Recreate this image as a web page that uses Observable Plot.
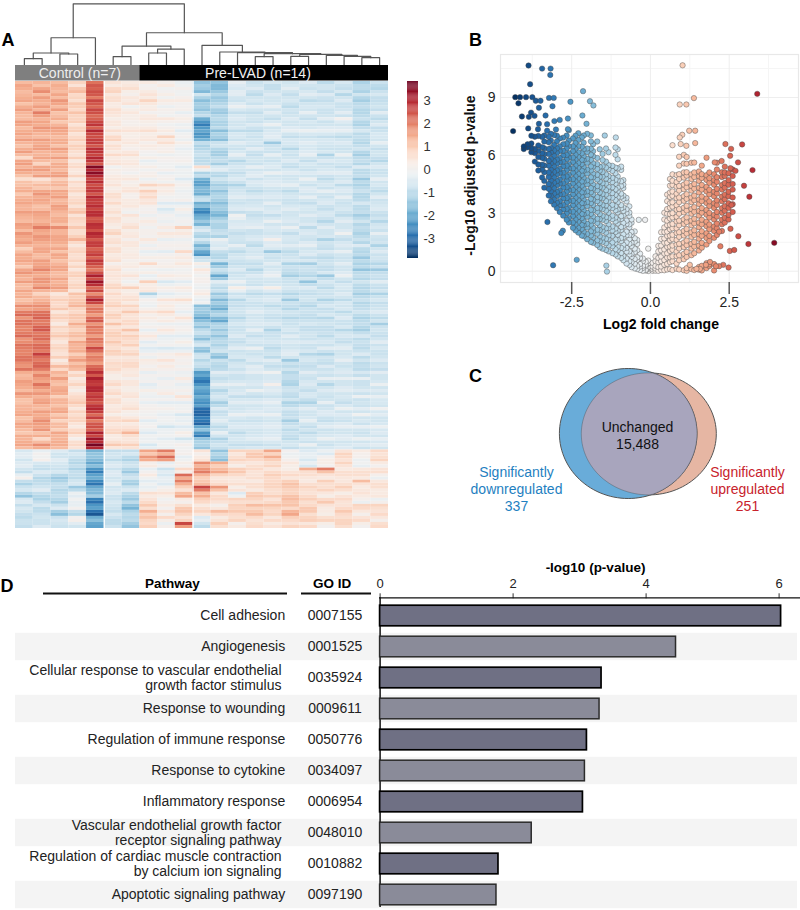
<!DOCTYPE html>
<html><head><meta charset="utf-8">
<script src="https://cdn.jsdelivr.net/npm/d3@7"></script>
<script src="https://cdn.jsdelivr.net/npm/@observablehq/plot@0.6"></script>
<style>html,body{margin:0;padding:0;background:#fff}#fig{position:relative;width:800px;height:910px;overflow:hidden;font-family:"Liberation Sans",Arial,sans-serif}</style>
</head><body><div id="fig"></div>
<script>
// ---------- Panel A: heat map values in tenths, one array per sample (61 upper rows, 13 lower rows)
const s01=[12,14,13,15,14,13,12,15,14,13,13,14,12,15,13,14,6,11,14,13,15,13,14,12,15,17,14,13,12,14,13,15,14,16,12,13,11,18,20,17,21,19,22,18,20,19,21,17,14,13,15,12,14,11,13,15,12,14,10,13,15,-6,-4,-5,-7,-3,-9,-8,-11,-6,-9,-7,-10,-8];
const s02=[13,15,12,14,16,20,13,14,15,12,14,16,13,12,15,13,5,12,15,14,14,12,15,13,20,14,16,13,15,12,15,19,14,17,19,8,13,18,21,23,20,24,21,19,22,27,20,23,15,16,21,14,13,16,12,14,18,15,11,7,18,-3,-1,-6,-9,-8,-10,-7,-9,-12,-6,-10,-7,-8];
const s03=[12,13,15,17,12,11,14,13,15,12,14,16,12,11,14,15,9,13,15,16,13,15,12,14,18,13,15,12,11,14,13,15,12,13,16,4,9,7,4,9,3,6,10,4,8,5,3,12,13,16,11,15,9,13,14,10,8,12,15,13,14,-5,-7,-6,-8,-11,-12,-9,-10,-11,-8,-13,-8,-7];
const s04=[8,10,7,6,9,11,8,5,9,7,6,8,5,3,7,4,2,5,8,6,8,9,5,7,10,6,13,4,8,6,5,4,9,6,8,11,10,13,7,10,14,8,12,15,13,9,16,14,5,3,8,2,7,10,4,6,8,3,9,1,7,-9,-8,-11,-12,-9,-7,-14,-2,-1,-3,-9,0,-4];
const s05=[21,23,24,26,22,25,23,28,30,25,27,29,26,28,36,35,26,25,28,30,27,26,29,25,28,30,24,27,25,23,26,20,31,33,22,18,31,18,20,22,17,19,16,20,26,17,19,22,29,31,27,30,28,24,30,22,20,25,31,33,37,-18,-15,-20,-23,-21,-25,-20,-17,-26,-23,-29,-19,-20];
const s06=[5,7,4,6,3,5,2,4,6,7,3,5,7,4,-1,1,4,5,3,6,7,4,3,5,2,8,5,3,6,4,1,6,5,4,8,7,6,9,6,8,11,7,9,10,6,8,5,6,4,2,7,5,3,6,4,2,7,5,8,3,10,-9,-7,-6,-8,-5,-6,-7,-5,-8,-7,-9,-8,-10];
const s07=[3,6,1,3,-1,4,2,1,5,2,4,1,6,3,2,-1,4,2,5,1,3,1,5,2,6,3,1,4,2,3,2,0,5,-1,9,3,6,8,10,5,7,11,9,6,4,8,5,7,3,1,4,2,5,3,6,1,8,5,13,4,9,-9,-10,-8,-11,-9,-12,-8,-10,-14,-15,-12,-11,-13];
const s08=[3,1,5,8,2,0,4,1,6,3,1,2,-1,-3,2,1,-2,8,9,7,5,0,-2,3,-1,1,4,-2,-3,2,7,-1,-3,9,3,-12,1,-2,5,3,-1,-3,4,-4,-5,1,3,0,-3,-1,-4,2,-2,-3,1,-1,-4,0,-5,-2,-6,15,17,1,-3,3,-4,-3,6,5,10,14,11,7];
const s09=[1,-1,2,3,-2,0,4,-1,3,8,6,1,-2,0,-1,-3,1,6,3,-1,-5,-6,0,-2,3,4,-3,1,-4,2,1,-2,3,-6,2,-4,5,3,7,1,-2,4,-4,-1,-6,2,5,3,-1,-3,0,1,-2,-4,1,-3,-1,-7,-2,-4,-1,20,22,-3,-8,-6,-3,0,5,-1,3,5,7,-2];
const s10=[-2,1,-1,3,0,-3,2,-2,-4,0,2,-3,-1,1,-4,-2,-5,1,-2,-1,-5,2,-3,0,9,4,-2,1,7,3,4,-1,2,-4,3,-2,6,-1,-3,5,-2,1,-4,2,-5,4,0,-1,-2,3,-3,1,5,-4,-1,-6,-3,-5,2,-7,1,0,-3,2,7,22,20,9,12,3,6,11,5,26];
const s11=[-15,-14,-7,-16,-13,-11,-19,-27,-20,-22,-9,-11,-8,-10,6,-12,-18,-21,-17,-10,-19,-23,-20,-14,-8,-10,-6,-18,-20,-9,2,4,-1,1,-2,3,-3,-16,-14,-20,-12,-10,-12,-9,-14,-8,-11,-9,-22,-25,-23,-21,-19,-24,-29,-31,-28,-20,-23,-15,-12,5,3,18,17,13,10,26,11,9,3,8,-5,-7];
const s12=[-15,-17,-11,-13,-9,-14,-10,-12,-16,-13,-8,-11,-13,-9,-6,-10,-7,-13,-15,-11,-16,-13,-18,-10,-12,-8,-2,-6,-9,-11,-18,-8,-20,-4,-10,-14,-17,-16,-13,-17,-12,-14,-15,-10,-9,-13,-8,-11,-4,-9,-3,-11,-6,-13,-5,-8,-4,-10,-3,-12,-7,-15,-13,14,12,8,5,17,4,7,1,12,3,9];
const s13=[-3,-6,-4,-8,-2,-9,-5,-7,-10,-6,-4,-8,-3,-11,-6,-9,-5,-12,-7,-4,-8,-5,-1,-6,-4,-9,-7,-3,-10,-6,-9,-5,-7,-2,2,-8,-11,-9,-7,-11,-6,-8,-5,-9,-4,-7,-10,-6,-5,-8,-3,-6,-9,-4,-7,-2,-8,-5,-10,-6,-9,8,6,5,9,7,4,2,-5,8,9,10,6,1];
const s14=[-8,-5,-10,-6,-4,-9,-7,-5,-10,-8,-6,-4,-9,-7,-3,-5,-8,-6,-10,-5,-7,-4,-9,-6,-3,-8,-5,-10,-7,-4,-9,-11,-5,-7,-3,-10,-6,-8,-4,-7,-5,-3,-9,-6,-2,-8,-5,-4,-3,-7,-5,-2,-9,-4,-6,-3,-8,-5,-7,-4,-9,8,10,4,7,5,3,6,9,8,12,10,7,6];
const s15=[-6,-9,-5,-7,-3,-4,-9,-2,-6,-4,-14,-7,-3,-8,-5,-2,-6,-4,-8,-5,-3,-6,-9,-2,-5,-7,1,-4,-14,-8,-4,-6,-2,-7,2,-9,-5,-10,-6,-9,-5,-12,-8,-6,-10,-7,-4,-9,-1,-6,1,-4,-8,-3,-5,-2,-7,-4,-6,-3,-8,15,14,6,4,9,7,8,6,5,11,7,4,3];
const s16=[-7,-4,-9,-6,-10,-8,-5,-7,-3,-9,-6,-11,-8,-5,-9,-4,-7,-3,-10,-6,-8,-4,-7,-5,-2,-9,-6,-4,-10,-7,-12,-9,-13,-8,-6,-11,-14,-9,-7,-11,-8,-6,-4,-5,-7,-4,-14,-10,-11,-9,-12,-7,-10,-12,-6,-9,-13,-7,-8,-10,-6,0,-1,4,2,7,9,10,8,12,11,13,9,5];
const s17=[-5,-8,-4,-10,-6,-3,-9,-7,-2,-8,-4,-6,-3,-9,-7,-5,-2,-8,-5,-3,-9,-6,-4,-7,-10,-5,-8,-3,-6,-9,-13,-8,-11,-15,-5,-9,-7,-11,-8,-10,-6,-9,-7,-5,-8,-11,-6,-9,-4,-8,-5,-9,-6,-12,-4,-7,-3,-9,-10,-6,-2,-5,-3,-2,14,6,3,8,5,9,7,10,8,4];
const s18=[-10,-7,-5,-9,-6,-8,-4,-7,-3,-9,-6,-8,-12,-5,-7,-4,-10,-6,-3,-8,-5,-9,-6,-11,-4,-7,-12,-8,-5,-10,-7,-9,-14,-6,-10,-8,-12,-6,-8,-11,-7,-9,-10,-6,-4,-12,-8,-5,-6,-3,-11,-5,-8,-3,-7,-5,-9,-4,-7,-2,-8,-2,0,2,20,5,9,6,4,7,5,3,6,2];
const s19=[-6,-9,-11,-5,-8,-4,0,-7,-3,-10,-5,-8,-2,-6,-9,-4,-7,-10,-5,-3,-8,-6,-10,-4,-7,-1,-9,-5,-3,-8,-4,-7,-2,-9,-6,-5,-10,-7,-10,-5,-8,-11,-6,-9,-4,-7,-3,-8,-5,-3,-7,-4,-6,-9,-2,-5,-8,-3,-7,-4,-6,5,7,8,3,6,4,9,2,7,5,10,6,8];
const s20=[-12,-10,-7,-13,-9,-11,-8,-12,-6,-9,-11,-7,-13,-9,-5,-10,-14,-12,-8,-11,-6,-10,-13,-7,-9,-12,-8,-5,-11,-14,-12,-15,-9,-7,-11,-13,-8,-10,-7,-12,-9,-13,-6,-8,-10,-5,-7,-9,-6,-3,-8,-5,-2,-7,-4,-1,-6,-3,-8,-2,-5,3,1,-1,4,6,12,3,5,1,8,4,5,2];
const s21=[-8,-11,-6,-9,-7,-4,-10,-5,-8,-6,-3,-9,-7,-11,-5,-8,-3,-6,-10,-4,-7,-5,-9,-11,-6,-3,-8,-12,-5,-7,-11,-14,-8,-4,-9,-12,-6,-8,-5,-10,-13,-7,-9,-4,-6,-8,-5,-7,-4,-7,-2,-5,-3,-6,-1,-4,-7,-2,-5,-3,-4,7,6,3,5,1,4,6,3,-2,8,5,4,6];
const samples=[s01,s02,s03,s04,s05,s06,s07,s08,s09,s10,s11,s12,s13,s14,s15,s16,s17,s18,s19,s20,s21];
// finer streaks: each row is drawn as two thin rows, the second differing from the first by this many tenths
const f01=[3,-2,1,-4,2,-1,4,-3,1,3,-2,2,-5,1,3,-3,5,2,-4,1,-2,3,-1,4,-3,-2,2,-4,3,1,-3,2,-1,-4,3,1,2,-3,2,4,-2,1,-5,3,-1,2,-3,4,-2,3,-1,5,-3,2,1,-4,3,-2,4,1,-3,2,-3,1,-2,4,-3,2,-4,1,3,-2,2,-1];
const f02=[-2,3,4,-1,-3,-4,2,3,-2,4,1,-3,2,-4,1,3,4,-2,2,1,-3,4,-1,2,-5,3,-2,2,-3,4,1,-4,3,-2,-6,4,2,-2,1,-3,3,-4,1,3,-2,-5,2,-3,4,-1,-4,3,2,-3,4,1,-2,2,3,5,-4,3,2,-2,4,-3,1,3,-2,3,-4,2,-1,3];
const f03=[2,-1,-3,-2,4,1,-4,3,-1,2,-3,-2,4,3,-2,1,3,-3,-1,-4,3,-2,2,-3,-5,2,-1,3,4,-3,2,-3,3,1,-4,3,-2,3,4,-3,5,2,-4,3,-2,4,3,-5,-2,-4,3,-1,4,-2,1,3,4,-3,-2,1,-2,-2,3,-1,2,-3,3,-2,1,-2,3,-3,2,-1];
const f04=[-3,2,1,4,-2,-3,1,3,-4,2,3,-2,4,3,-3,4,5,2,-4,1,-3,2,3,-1,-4,3,-6,3,-2,2,3,4,-3,2,-4,-2,1,-5,3,-1,-4,3,-3,-2,1,4,-5,-2,3,2,-4,3,1,-3,4,2,-3,4,-4,5,-2,3,-2,2,3,-1,1,4,-2,-2,3,-2,1,-3];
const f05=[3,2,-4,-2,4,-3,3,-5,-4,2,-3,-1,4,-4,-6,-5,3,2,-4,-3,2,3,-5,4,-3,-2,3,-4,2,5,-3,5,-6,-4,4,6,-5,3,-4,2,4,1,5,-2,-4,3,-3,2,-5,-3,3,-4,-2,4,-3,5,4,-2,-5,-4,-7,3,-2,4,-4,2,-3,3,4,-3,2,-4,3,-1];
const f06=[-2,1,2,-3,3,-1,2,-2,-3,1,3,-2,-4,1,3,2,-1,-3,3,-2,-4,2,3,-2,4,-5,1,3,-3,2,3,-2,-1,3,-4,-2,1,-4,3,-3,-6,2,-2,-3,3,-4,2,1,-2,3,-4,2,3,-3,1,4,-3,2,-5,3,-6,2,-3,1,3,-2,3,1,-3,2,-1,3,-2,2];
const f07=[1,-4,3,2,3,-2,-1,2,-3,1,-2,3,-4,1,-1,3,-3,2,-4,2,1,-2,-3,2,-4,1,3,-2,1,-2,1,2,-4,3,-7,2,-3,-3,-5,2,-3,-6,-2,3,2,-4,2,-3,1,3,-2,2,-3,1,-4,3,-5,2,-7,1,-4,3,-2,1,-3,2,-1,3,-2,4,-3,2,1,-2];
const f08=[-3,2,-2,-4,1,3,-2,2,-4,1,2,-2,3,2,-3,1,3,-6,-4,-3,-4,1,3,-2,2,-1,-3,3,2,-2,-6,3,2,-7,1,8,-2,3,-4,-2,2,4,-3,3,2,-3,-1,2,3,1,2,-3,2,3,-1,2,3,-2,4,1,3,-5,-3,2,3,-4,3,2,-3,2,-4,-5,-3,2];
const f09=[2,1,-3,-2,3,-1,-3,2,-2,-5,-4,1,3,-1,2,3,-2,-4,-2,1,4,3,-1,2,-3,-2,3,-1,4,-2,1,2,-3,4,-2,3,-4,-1,-4,2,3,-3,2,1,4,-2,-4,-2,1,3,-1,2,2,3,-2,2,-1,5,1,3,-1,-7,-6,3,4,3,-2,2,-3,2,-3,-4,-5,3];
const f10=[1,-2,2,-3,1,3,-1,2,3,-2,-3,2,1,-2,3,1,4,-2,1,2,4,-3,2,-1,-7,-3,2,-1,-6,-2,-3,1,-2,3,-2,2,-5,1,3,-4,2,-2,3,-3,3,-3,1,2,1,-3,2,-2,-4,3,1,4,2,3,-2,5,-2,1,2,-2,-5,-8,-6,-4,3,-2,4,-3,3,-10];
const f11=[2,-3,-5,3,-2,2,-4,5,-3,4,-3,2,-2,1,-8,3,-3,4,-2,2,3,-3,2,-4,3,-2,-5,4,-3,2,-4,-3,2,-2,3,-4,2,3,-2,4,-3,2,-4,3,-2,1,3,-4,2,-3,4,-2,-3,3,-2,4,-3,5,-4,3,-3,-4,2,-5,3,-4,2,-6,3,-2,3,-4,2,-3];
const f12=[-2,3,-3,2,-4,3,-2,2,4,-3,1,-2,3,-4,2,-1,-3,2,3,-2,3,-3,5,-2,3,-4,-3,2,-2,3,5,-3,6,-4,2,3,4,-3,2,-3,1,3,4,-2,2,-3,-2,1,-3,2,-4,3,-2,3,-4,2,-3,2,-4,3,-2,4,-3,-5,3,-4,2,-6,3,-2,3,-5,2,-3];
const f13=[-2,2,-3,3,-4,3,-2,1,4,-2,-3,2,-4,3,-1,2,-3,4,1,-3,2,-4,-2,1,-3,2,-1,-4,3,-2,2,-3,1,-4,-5,2,3,2,-1,3,-2,1,-3,2,-4,1,3,-2,-3,2,-4,1,3,-3,1,-4,2,-2,3,-1,2,-4,2,-3,1,-3,2,3,4,-2,-1,-3,2,2];
const f14=[1,-3,3,-2,-3,2,-1,-3,3,1,-2,-4,2,-1,-4,1,3,-2,3,-3,1,-4,2,1,-5,2,-3,4,1,-3,2,3,-2,-1,-4,3,-2,2,-3,1,-2,-4,3,-2,-5,2,-3,-1,-4,1,-2,-5,3,-3,1,-4,2,-2,1,-3,3,2,-3,2,-2,1,3,-3,1,-2,-4,2,-2,1];
const f15=[-3,2,-2,1,-4,-3,3,-5,1,-2,6,-1,-4,2,-2,-5,1,-3,2,-2,-4,1,3,-5,-1,2,-6,-2,7,1,-3,2,-4,1,-7,3,-2,3,-2,2,-3,4,1,-2,2,-3,-3,2,-5,1,-6,-2,3,-3,-1,-4,2,-2,1,-3,2,-7,-5,2,3,-2,1,-2,3,2,-3,1,3,2];
const f16=[1,-3,2,-2,3,1,-2,2,-4,3,-1,4,1,-3,3,-3,1,-4,3,-2,2,-3,1,-2,-4,3,-1,-3,2,1,4,-1,5,1,-2,3,6,-2,-1,3,1,-2,-3,-2,2,-3,6,3,2,-2,4,-2,3,2,-3,1,4,-3,-1,3,-3,-2,2,-2,3,-3,2,-2,3,-2,-4,2,-2,3];
const f17=[-2,2,-3,3,-1,-4,3,1,-4,2,-2,1,-4,3,-1,-2,-4,3,-2,-4,3,-1,-3,2,4,-2,3,-4,1,3,5,-1,4,6,-3,2,-2,3,-1,2,-3,2,-1,-3,2,4,-2,1,-3,2,-2,3,-3,4,-3,1,-4,2,3,-2,-5,2,-3,-4,-8,-2,3,-2,2,-3,3,-4,1,3];
const f18=[3,-2,-3,2,-2,1,-4,2,-3,3,-1,2,4,-3,1,-4,3,-2,-4,2,-3,3,-2,4,-3,1,5,-1,-3,2,-2,3,5,-2,3,1,4,-3,2,3,-2,1,3,-2,-4,5,-1,-3,-2,-4,4,-2,1,-5,2,-3,3,-4,1,-5,2,-3,2,-2,-9,-2,-3,2,-2,3,-2,-1,2,-2];
const f19=[-2,3,4,-3,1,-4,-5,2,-4,3,-2,1,-5,-1,3,-3,2,4,-2,-4,1,-2,4,-3,2,-6,3,-2,-4,1,-3,2,-5,3,-1,-2,4,1,3,-3,2,4,-2,3,-3,1,-4,2,-2,-4,2,-3,-1,3,-5,-2,3,-4,2,-3,1,3,-2,-3,3,-2,2,-3,3,-2,2,-3,2,-2];
const f20=[2,-2,-4,3,-2,1,-3,3,-4,-1,2,-4,3,-2,-5,1,4,2,-3,1,-4,1,3,-4,-1,2,-3,-5,1,4,2,5,-2,-3,1,3,-3,1,-3,2,-2,4,-4,-1,2,-5,-3,-1,-3,-5,1,-3,-6,-1,-3,-6,-2,-4,1,-5,-3,-2,-3,-2,2,-3,-7,1,-2,-3,-1,-3,2,-2];
const f21=[-2,3,-3,1,-2,-4,3,-4,2,-1,-4,2,-2,4,-3,1,-4,-2,3,-4,1,-3,2,4,-2,-4,1,5,-3,-1,3,5,-1,-4,2,4,-3,1,-3,3,5,-1,2,-4,-2,1,-3,-2,-3,1,-5,-2,-3,-1,-5,-3,1,-4,-2,-3,-3,-2,2,-3,1,-3,2,-3,1,3,-2,2,-3,1];
const streaks=[f01,f02,f03,f04,f05,f06,f07,f08,f09,f10,f11,f12,f13,f14,f15,f16,f17,f18,f19,f20,f21];
const groupNames=["Control (n=7)","Pre-LVAD (n=14)"];
const groupSpans=[[0,7],[7,21]];
const groupFills=["#7f7f7f","#000000"];
const groupTextFill=["#eeeeee","#f2f2f2"];
// merges: [left id, right id, height]; ids below 21 are samples, above are earlier merges
const merges=[[0,1,6.3],[2,3,11],[21,22,12],[23,4,27.3],[5,6,8.3],[7,8,12],[26,9,16],[25,27,19],[19,20,7.3],[18,29,8.7],[17,30,9.7],[15,16,8.7],[32,31,10.7],[13,14,8.3],[34,33,11.3],[12,35,12.3],[11,36,13],[10,37,19.7],[28,38,32.3],[24,39,61.3]];
const colorTicks=[3,2,1,0,-1,-2,-3];

// ---------- Panel B: volcano, [log2FC, list of -log10 p-values]
const volcanoColumns=[
[-.07,[.01,.13,.2,.41,.55]],[-.15,[.04,.07,.26,.33,.49]],[-.24,[.02,.17,.28,.52,.66]],[-.33,[.06,.24,.37,.68,.91]],
[-.42,[.11,.27,.58,.72,1.09,1.41,1.62]],[-.5,[.15,.39,.63,.99,1.17,1.53,1.71,2.06]],
[-.6,[.21,.47,.74,.9,1.31,1.48,1.87,2.03,2.51,2.68]],[-.67,[.33,.52,.86,1.03,1.42,1.66,1.88,2.27,2.43,2.87,3.04,3.36]],
[-.76,[.4,.66,1.01,1.21,1.49,1.86,2.05,2.44,2.62,3.02,3.21,3.62,3.8]],[-.86,[.57,.79,1.16,1.37,1.75,1.91,2.33,2.5,2.89,3.13,3.31,3.75,3.92,4.31,4.48,4.72]],
[-.93,[.69,.94,1.21,1.56,1.72,2.14,2.29,2.71,2.85,3.26,3.43,3.86,4.02,4.41,4.66,5.25,5.42]],
[-1.04,[.77,1.08,1.27,1.63,1.89,2.1,2.47,2.66,3.05,3.2,3.57,3.83,4.14,4.33,4.69,4.91,5.33,5.8,6.32]],
[-1.11,[.87,1.14,1.46,1.64,2.03,2.21,2.58,2.78,3.16,3.37,3.69,3.96,4.24,4.53,4.74,5.08,5.37,6.03,6.41]],
[-1.21,[.94,1.29,1.49,1.83,2.11,2.32,2.7,2.88,3.27,3.44,3.81,4.05,4.35,4.62,4.84,5.2,5.46]],
[-1.33,[1.03,1.33,1.66,1.86,2.23,2.43,2.75,3.03,3.28,3.61,3.82,4.16,4.37,4.72,4.93,5.29,5.5,6.17]],
[-1.41,[1.1,1.45,1.68,2,2.22,2.6,2.8,3.14,3.41,3.64,3.97,4.2,4.54,4.8,5.02,5.37,5.68,6.36]],
[-1.52,[1.17,1.52,1.74,2.09,2.3,2.67,2.87,3.22,3.43,3.78,4,4.33,4.56,4.9,5.14,5.44,5.76,6.08]],
[-1.61,[1.24,1.55,1.81,2.13,2.39,2.7,2.96,3.26,3.53,3.8,4.08,4.36,4.66,4.89,5.21,5.41,6.32]],
[-1.69,[1.36,1.6,1.94,2.15,2.5,2.72,3.08,3.28,3.63,3.84,4.19,4.41,4.75,5,5.3,5.55,5.87,6.72]],
[-1.82,[1.47,1.74,2.05,2.25,2.6,2.83,3.15,3.43,3.7,3.98,4.27,4.5,4.86,5.06,5.41,5.6,5.96,6.22,6.58]],
[-1.89,[1.52,1.85,2.07,2.41,2.62,2.97,3.18,3.53,3.75,4.09,4.31,4.66,4.87,5.22,5.43,5.77,6.04,6.35,6.73,7.04]],
[-2.01,[1.66,1.93,2.26,2.46,2.82,3.03,3.38,3.58,3.94,4.14,4.5,4.71,5.06,5.27,5.62,5.83,6.18,6.36,7.12]],
[-2.12,[1.82,2.05,2.39,2.6,2.95,3.16,3.52,3.72,4.08,4.28,4.64,4.84,5.2,5.4,5.76,5.96,6.32,6.66,7.03]],
[-2.18,[1.85,2.19,2.4,2.75,2.97,3.31,3.53,3.87,4.09,4.43,4.65,4.99,5.21,5.55,5.77,6.11,6.45,6.93]],
[-2.29,[2,2.25,2.56,2.81,3.12,3.37,3.68,3.93,4.24,4.49,4.8,5.05,5.36,5.61,5.92,6.17,6.49,6.8,7.15]],
[-2.38,[2.12,2.42,2.68,2.98,3.24,3.54,3.8,4.1,4.36,4.66,4.92,5.22,5.48,5.78,6.04,6.34,6.64,7.02]],
[-2.46,[2.25,2.53,2.86,3.09,3.42,3.65,3.98,4.21,4.54,4.77,5.1,5.33,5.66,5.89,6.22,6.47,6.88]],
[-2.59,[2.52,2.75,3.08,3.31,3.64,3.87,4.2,4.43,4.76,4.99,5.32,5.55,5.88,6.11,6.48,6.77,7.31]],
[-2.66,[2.67,3,3.23,3.56,3.79,4.12,4.35,4.68,4.91,5.24,5.47,5.8,6.03,6.36,6.62,7.03]],
[-2.77,[2.88,3.2,3.44,3.76,4,4.32,4.56,4.88,5.12,5.44,5.68,6,6.24,6.58,6.92]],
[-2.88,[3.07,3.41,3.63,3.97,4.19,4.53,4.75,5.09,5.31,5.65,5.87,6.23,6.47,6.88]],
[-2.97,[3.27,3.55,3.89,4.11,4.45,4.67,5.01,5.23,5.57,5.79,6.13,6.37,6.73,7.02]],
[-3.06,[3.45,3.72,4.02,4.3,4.58,4.86,5.14,5.42,5.7,5.98,6.26,6.54,7.06]],
[-3.16,[3.62,3.9,4.14,4.47,4.7,5.03,5.26,5.59,5.82,6.15,6.38,6.78,7.12]],
[-3.23,[3.92,4.27,4.52,4.88,5.12,5.47,5.72,6.07,6.33,6.68,6.97]],
[-3.37,[4.33,4.68,5.13,5.48,5.83,6.08,6.37,6.72,7.03]],[-3.44,[4.86,5.27,5.52,5.88,6.12,6.43,6.96]],[-3.56,[5.22,5.53,5.92,6.23,6.52,7.01]],
[-3.67,[5.68,6.12,6.33,6.97]],[-3.78,[6.17,6.38,6.62,7.02]],[-3.9,[6.42,6.58]],[-4.02,[6.33,6.47]],
[.07,[.02,.11,.24,.43]],[.16,[.03,.14,.28,.52,.77]],[.25,[.02,.21,.47,.69,1.02,1.31]],[.34,[.06,.24,.52,.76,1.08,1.33,1.67,2.02]],
[.44,[.05,.34,.58,.91,1.13,1.48,1.7,2.03,2.27,2.68,3.03]],[.53,[.09,.38,.71,.93,1.26,1.47,1.83,2.05,2.39,2.62,2.98,3.22,3.63,3.97]],
[.62,[.11,.47,.72,1.05,1.27,1.61,1.84,2.17,2.4,2.73,2.96,3.29,3.52,3.85,4.08,4.43,4.78]],
[.7,[.06,.52,.77,1.11,1.33,1.67,1.89,2.23,2.45,2.79,3.01,3.35,3.57,3.91,4.13,4.47,4.69,5.02]],
[.83,[.13,.4,.78,1.02,1.38,1.62,1.98,2.22,2.58,2.82,3.18,3.42,3.78,4.02,4.38,4.62,4.98]],
[.91,[.09,.57,.83,1.18,1.42,1.78,2.02,2.38,2.62,2.98,3.22,3.58,3.82,4.18,4.42,4.78,5.03,5.47,5.93]],
[1.06,[.05,.62,.9,1.25,1.49,1.85,2.09,2.45,2.69,3.05,3.29,3.65,3.89,4.25,4.49,4.85,5.12,5.58,6.03]],
[1.15,[.02,.16,.74,1,1.35,1.59,1.95,2.19,2.55,2.79,3.15,3.39,3.75,3.99,4.35,4.59,4.95,5.13,5.57,5.92]],
[1.3,[.11,.83,1.17,1.42,1.78,2.02,2.38,2.62,2.98,3.22,3.58,3.82,4.18,4.42,4.78,5.02,5.62]],
[1.39,[.06,.93,1.28,1.52,1.88,2.12,2.48,2.72,3.08,3.32,3.68,3.92,4.28,4.52,4.88,5.12,5.63]],
[1.54,[.08,.22,1.07,1.33,1.68,1.92,2.28,2.52,2.88,3.12,3.48,3.72,4.08,4.32,4.68,4.92,5.17]],
[1.63,[.04,.28,1.22,1.47,1.83,2.07,2.43,2.67,3.03,3.27,3.63,3.87,4.23,4.47,4.83,5.03,5.47]],
[1.78,[.16,.42,1.38,1.72,1.97,2.33,2.57,2.93,3.17,3.53,3.77,4.13,4.37,4.73,4.97,5.88]],
[1.87,[.27,.36,1.57,1.83,2.18,2.42,2.78,3.02,3.38,3.62,3.98,4.22,4.58,4.82,5.12]],
[2.02,[.04,.37,1.73,2.08,2.32,2.68,2.92,3.28,3.52,3.88,4.12,4.48,4.72,5.03]],
[2.11,[1.88,2.23,2.47,2.83,3.07,3.43,3.67,4.03,4.27,4.63,4.87,5.27,5.62]],
[2.27,[2.08,2.43,2.67,3.03,3.27,3.63,3.87,4.23,4.47,4.88,5.13]],[2.36,[2.52,2.77,3.13,3.37,3.73,3.97,4.33,4.57,4.93,5.12,5.42]],
[2.48,[2.68,2.92,3.28,3.52,3.88,4.12,4.48,4.72,5.08]],[2.61,[3.07,3.47,3.82,4.23,4.52,4.93,5.27]]];
const volcanoOutliers=[[-3.87,10.66],[-3.44,10.5],[-3.17,10.5],[-3.18,10.17],[-3.82,9.69],[-2.14,9.33],[-4.29,9.02],[-4.14,9.02],[-3.95,9.02],[-3.75,9.02],[-3.64,8.83],[-3.49,8.83],[-3.22,8.98],[-3.07,8.98],[-4.19,8.7],[-3.54,8.47],[-3.11,8.55],[-2.54,8.78],[-1.92,8.81],[-1.81,8.59],[-4.08,8.02],[-3.79,8.22],[-3.86,8],[-3.68,8.05],[-3.33,8.07],[-2.16,8.07],[-2.62,7.91],[-2.88,7.84],[-3.05,7.78],[-2.03,7.64],[-3.54,7.64],[-3.28,7.62],[-3.88,7.4],[-4.36,7.26],[-3.57,7.36],[-3,7.34],[-2.62,7.36],[-3.28,7.28],[-1.45,7.03],[-1.1,6.93],[-3.27,2.55],[-2.78,2.1],[-2.83,1.98],[-3.09,.31],[-2.34,.59],[-1.4,.29],[-1.38,-.02],[-.37,2.66],[-.17,2.66],[-.07,1.17],
[1.02,10.67],[3.39,9.19],[1.38,8.97],[.93,8.64],[1.14,8.64],[1.23,7.28],[1.42,7.28],[1.01,7.07],[.93,6.93],[.7,6.53],[.96,6.59],[1.14,6.5],[1.42,6.64],[2.38,6.59],[2.91,6.57],[2.56,6.34],[2.53,5.98],[2.26,5.71],[2.04,5.64],[2.78,5.64],[2.54,5.34],[3.24,5.24],[2.7,5.2],[2.97,4.43],[3.14,3.86],[2.57,3.43],[2.54,2.2],[2.79,1.81],[3.11,1.41],[3.93,1.47],[2.52,1.05],[2.66,1.1],[2.22,1.29],[2.18,2.05],[2.48,.19],[2.31,.33],[2.18,.26],[2.08,.26],[1.89,.48],[1.76,.33],[1.57,.12],[1.46,.12],[1.25,.33]];

// ---------- Panel C
const vennCentre=["Unchanged","15,488"];
const vennDown=["Significantly","downregulated","337"];
const vennUp=["Significantly","upregulated","251"];

// ---------- Panel D
const pathways=["Cell adhesion","Angiogenesis","Cellular response to vascular endothelial\ngrowth factor stimulus","Response to wounding","Regulation of immune response","Response to cytokine","Inflammatory response","Vascular endothelial growth factor\nreceptor signaling pathway","Regulation of cardiac muscle contraction\nby calcium ion signaling","Apoptotic signaling pathway"];
const goIds=["0007155","0001525","0035924","0009611","0050776","0034097","0006954","0048010","0010882","0097190"];
const logP=[6.03,4.45,3.33,3.30,3.11,3.08,3.05,2.28,1.78,1.75];

// ---------- assembly
const FONT='"Liberation Sans",Arial,sans-serif';
const fig=document.getElementById("fig");
function place(svg,left,top){svg.style.position="absolute";svg.style.left=left+"px";svg.style.top=top+"px";svg.style.background="transparent";svg.style.fontFamily=FONT;fig.appendChild(svg);}
const heatColor={type:"linear",scheme:"rdbu",reverse:true,domain:[-3.86,3.86]};

// dendrogram
const nodes=samples.map((_,i)=>({x:i+.5,h:0}));
const dendroPaths=[];
merges.forEach(([a,b,h],k)=>{const A=nodes[a],B=nodes[b];nodes.push({x:(A.x+B.x)/2,h});
  dendroPaths.push({k,x:A.x,h:A.h},{k,x:A.x,h},{k,x:B.x,h},{k,x:B.x,h:B.h});});
place(Plot.plot({width:400,height:66,x:{domain:[0,21],range:[15,388],axis:null},y:{domain:[0,61.3],range:[64.5,3.3],axis:null},
  marks:[Plot.line(dendroPaths,{x:"x",y:"h",z:"k",stroke:"#555",strokeWidth:1.2,curve:"linear"})]}),0,0);

// group bar
const groups=groupNames.map((name,i)=>({name,x1:groupSpans[i][0],x2:groupSpans[i][1],fill:groupFills[i],tf:groupTextFill[i],at:i?13.65:3.62}));
place(Plot.plot({width:400,height:15.5,margin:0,x:{domain:[0,21],range:[15,388],axis:null},
  marks:[Plot.barX(groups,{x1:"x1",x2:"x2",fill:d=>d.fill}),
         Plot.text(groups,{x:"at",text:"name",fill:d=>d.tf,frameAnchor:"middle",fontSize:14,dy:.5})]}),0,65);

// heat map
const cells=[];
samples.forEach((col,c)=>col.forEach((v,r)=>{
  cells.push({c,r:2*r,v:v/10});
  cells.push({c,r:2*r+1,v:(v+(streaks[c][r]??0))/10});
}));
place(Plot.plot({width:400,height:530,color:heatColor,x:{domain:[0,21],range:[15,388],axis:null},y:{domain:[0,148],range:[0,447],axis:null},
  marks:[Plot.rect(cells,{x1:"c",x2:d=>d.c+1,y1:"r",y2:d=>d.r+1,fill:"v"}),
         Plot.ruleX([5,10],{stroke:"#fff",strokeWidth:1.2,y1:0,y2:148})]}),0,81.3);

// colour bar
const levels=d3.range(-3.86,3.86,.04);
place(Plot.plot({width:50,height:177,marginLeft:0,marginRight:39,marginTop:0,marginBottom:0,color:heatColor,y:{domain:[-3.86,3.86],range:[177,0],axis:null},
  marks:[Plot.rect(levels,{y1:d=>d,y2:d=>d+.045,fill:d=>d}),
         Plot.axisY(colorTicks,{anchor:"right",tickSize:0,tickPadding:5,tickFormat:d=>String(d),fontSize:13,fill:"#333",label:null})]}),407,81);

// volcano
const volcano=volcanoColumns.flatMap(([x,ys])=>ys.map(y=>({x,y}))).concat(volcanoOutliers.map(([x,y])=>({x,y})));
place(Plot.plot({width:340,height:300,marginLeft:40,marginRight:2,marginTop:14,marginBottom:58,
  x:{domain:[-4.76,4.70]},y:{domain:[-.585,11.23]},color:{type:"linear",scheme:"rdbu",reverse:true,domain:[-4.3,4.3]},
  marks:[
    Plot.gridX([-3.75,-1.25,1.25,3.75],{stroke:"#f5f5f5",strokeOpacity:1}),
    Plot.gridY([1.5,4.5,7.5,10.5],{stroke:"#f5f5f5",strokeOpacity:1}),
    Plot.gridX([-2.5,0,2.5],{stroke:"#eeeeee",strokeOpacity:1}),
    Plot.gridY([0,3,6,9],{stroke:"#eeeeee",strokeOpacity:1}),
    Plot.frame({stroke:"#e8e8e8",strokeWidth:1.2}),
    Plot.dot(volcano,{x:"x",y:"y",fill:"x",r:2.7,stroke:"#444",strokeOpacity:.6,strokeWidth:.7}),
    Plot.axisX([-2.5,0,2.5],{tickSize:12,tickPadding:3,tickFormat:d=>d.toFixed(1),fontSize:14,stroke:"#555",strokeWidth:1.5,fill:"#222",label:null}),
    Plot.axisY([0,3,6,9],{tickSize:0,tickPadding:5,tickFormat:d=>String(d),fontSize:14,fill:"#222",label:null})
  ]}),460,40);

// panel D rows
const rows=pathways.map((p,i)=>({p,go:goIds[i],v:logP[i],i}));
const dx=p=>(p-379.6)/66.5;
place(Plot.plot({width:800,height:360,marginTop:47.3,marginBottom:3,
  x:{domain:[0,6],range:[379.6,778.6]},y:{type:"band",domain:pathways,range:[48.35,361.7],padding:0,axis:null},
  marks:[
    Plot.barX(rows.filter(d=>d.i%2),{x1:dx(15),x2:dx(797),y:"p",fill:"#f4f4f4",insetTop:1.8,insetBottom:1.8}),
    Plot.ruleX([0],{stroke:"#111",strokeWidth:1.5}),
    Plot.barX(rows.filter(d=>!(d.i%2)),{x1:0,x2:"v",y:"p",fill:"#6f7084",stroke:"#000",strokeWidth:1.7,insetTop:5.2,insetBottom:5.2}),
    Plot.barX(rows.filter(d=>d.i%2),{x1:0,x2:"v",y:"p",fill:"#8a8b99",stroke:"#2b2b2b",strokeWidth:1.5,insetTop:5.2,insetBottom:5.2}),
    Plot.text(rows.filter(d=>!d.p.includes("\n")),{x:dx(284.7),y:"p",text:"p",textAnchor:"end",fontSize:14,fill:"#222"}),
    Plot.text(rows.filter(d=>d.p.includes("\n")),{x:dx(281),y:"p",text:"p",textAnchor:"end",fontSize:14,fill:"#222",lineHeight:1.05}),
    Plot.text(rows,{x:dx(334.5),y:"p",text:"go",fontSize:14,fill:"#222"}),
    Plot.axisX([0,2,4,6],{anchor:"top",tickSize:5,tickPadding:5,fontSize:13,stroke:"#333",fill:"#222",tickFormat:d=>String(d),label:null})
  ]}),0,550);

// Venn + annotations, drawn in page pixels
const ell=(cx,cy,rx,ry)=>d3.range(0,360,3).map(a=>({x:cx+rx*Math.cos(a*Math.PI/180),y:cy+ry*Math.sin(a*Math.PI/180)}));
const E1=[627.7,433,68.8,65],E2=[648.3,433.4,67.5,61];
const inside=(p,[cx,cy,rx,ry])=>((p.x-cx)/rx)**2+((p.y-cy)/ry)**2<=1;
const both=ell(...E1).filter(p=>inside(p,E2)).concat(ell(...E2).filter(p=>inside(p,E1)))
  .sort((a,b)=>Math.atan2(a.y-433,a.x-638)-Math.atan2(b.y-433,b.x-638));
const letters=[{t:"A",x:1,y:40},{t:"B",x:468.5,y:40},{t:"C",x:468.5,y:376},{t:"D",x:0,y:586}];
const boldLabels=[
 {t:"Pathway",x:172,y:583,s:13.5},{t:"GO ID",x:331.5,y:583,s:13.5},
 {t:"-log10 (p-value)",x:595,y:567,s:13.5},{t:"Log2 fold change",x:660.5,y:324,s:14}];
const plainLabels=[
 {t:vennCentre[0],x:637,y:427,f:"#111"},{t:vennCentre[1],x:637,y:444,f:"#111"},
 ...vennDown.map((t,i)=>({t,x:516,y:472+17*i,f:"#1f7fc1"})),
 ...vennUp.map((t,i)=>({t,x:747,y:472+17*i,f:"#c8232c"}))];
place(Plot.plot({width:800,height:910,margin:0,x:{domain:[0,800],range:[0,800],axis:null},y:{domain:[0,910],range:[0,910],axis:null},
  marks:[
    Plot.line(ell(...E2),{x:"x",y:"y",curve:"linear-closed",fill:"#e6b6a3",stroke:"#555",strokeWidth:1}),
    Plot.line(ell(...E1),{x:"x",y:"y",curve:"linear-closed",fill:"#69acd9",stroke:"#555",strokeWidth:1}),
    Plot.line(both,{x:"x",y:"y",curve:"linear-closed",fill:"#a8a5bd",stroke:"#444",strokeOpacity:.45,strokeWidth:.8}),
    Plot.ruleY([593],{x1:43,x2:287,stroke:"#111",strokeWidth:2}),
    Plot.ruleY([593],{x1:301,x2:371,stroke:"#111",strokeWidth:2}),
    Plot.ruleY([597.3],{x1:379,x2:800,stroke:"#111",strokeWidth:1.3}),
    Plot.text(letters,{x:"x",y:"y",text:"t",textAnchor:"start",fontSize:18,fontWeight:"bold",fill:"#000"}),
    Plot.text(boldLabels,{x:"x",y:"y",text:"t",fontSize:d=>d.s,fontWeight:"bold",fill:"#000"}),
    Plot.text(plainLabels,{x:"x",y:"y",text:"t",fontSize:14,fill:d=>d.f}),
    Plot.text(["-Log10 adjusted p-value"],{x:470,y:175,text:d=>d,rotate:-90,fontSize:14,fontWeight:"bold",fill:"#111"})
  ]}),0,0);
</script></body></html>
